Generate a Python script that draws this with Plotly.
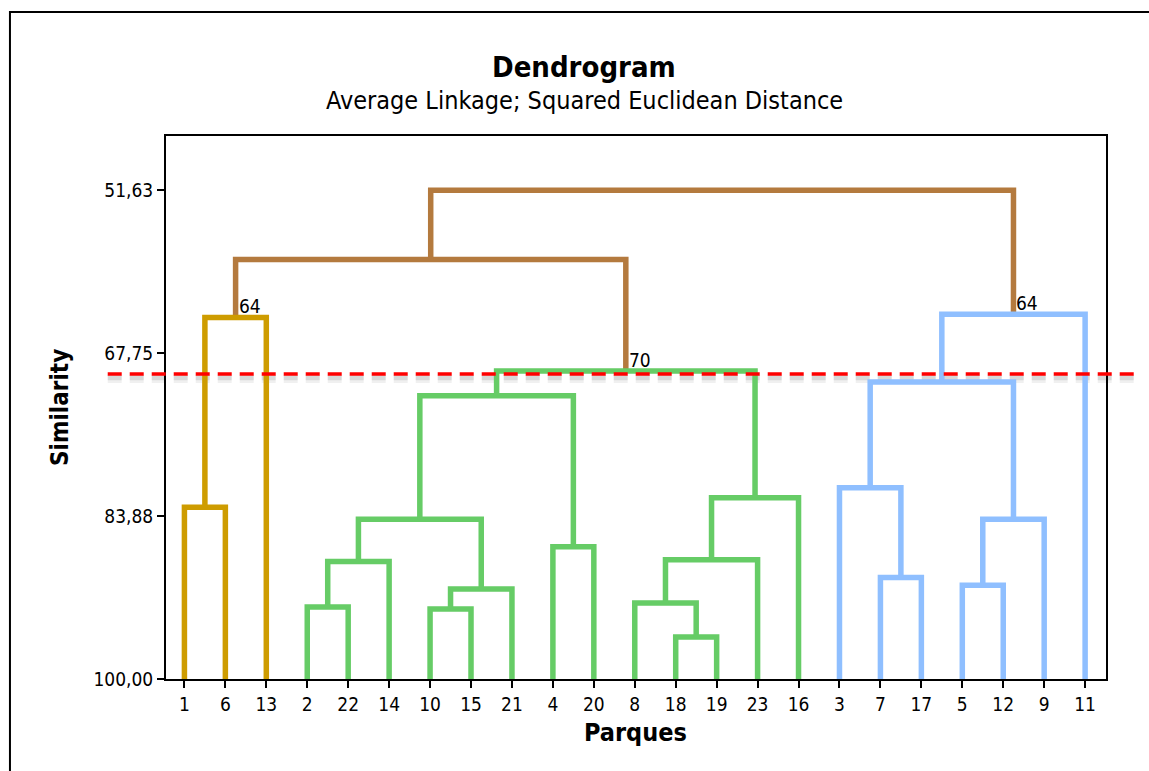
import plotly.graph_objects as go

# ---------------- data ----------------
leaf_labels = ["1", "6", "13", "2", "22", "14", "10", "15", "21", "4", "20",
               "8", "18", "19", "23", "16", "3", "7", "17", "5", "12", "9", "11"]

merge_names = ["A", "B", "C", "D", "E", "F", "G", "H", "I", "J", "K",
               "L", "M", "N", "O", "P", "Q", "R", "S", "T", "U", "V"]
merge_left = ["1", "A", "2", "C", "10", "E", "D", "4", "G", "18", "8",
              "K", "L", "I", "7", "3", "5", "Q", "P", "S", "B", "U"]
merge_right = ["6", "13", "22", "14", "15", "21", "F", "20", "H", "19", "J",
               "23", "16", "M", "17", "O", "12", "9", "R", "11", "N", "T"]
merge_similarity = [83.00, 64.22, 92.88, 88.37, 93.08, 91.10, 84.18, 86.92, 71.96, 95.85, 92.49,
                    88.21, 82.05, 69.52, 89.95, 81.06, 90.71, 84.18, 70.61, 63.89, 58.48, 51.63]
merge_cluster = ["gold", "gold", "green", "green", "green", "green", "green", "green", "green",
                 "green", "green", "green", "green", "green", "blue", "blue", "blue", "blue",
                 "blue", "blue", "brown", "brown"]

cluster_labels_node = ["B", "N", "T"]
cluster_labels_text = ["64", "70", "64"]

cutoff_similarity = 69.82

y_tick_values = [51.63, 67.75, 83.88, 100.00]
y_tick_text = ["51,63", "67,75", "83,88", "100,00"]

title_text = "Dendrogram"
subtitle_text = "Average Linkage; Squared Euclidean Distance"
x_title = "Parques"
y_title = "Similarity"

# ---------------- styles ----------------
colors = {
    "gold": "rgb(206,156,0)",
    "green": "rgb(102,204,102)",
    "blue": "rgb(143,191,255)",
    "brown": "rgb(180,122,62)",
}
FONT = "DejaVu Sans Condensed, DejaVu Sans, sans-serif"

# ---------------- build segments ----------------
pos = {lab: i + 1 for i, lab in enumerate(leaf_labels)}
height = {lab: 100.0 for lab in leaf_labels}
segs = {k: ([], []) for k in colors}
for name, a, b, s, c in zip(merge_names, merge_left, merge_right, merge_similarity, merge_cluster):
    xa, xb = pos[a], pos[b]
    ha, hb = height[a], height[b]
    xs, ys = segs[c]
    xs += [xa, xa, xb, xb, None]
    ys += [ha, s, s, hb, None]
    pos[name] = (xa + xb) / 2
    height[name] = s

fig = go.Figure()
for c in ["brown", "gold", "green", "blue"]:
    xs, ys = segs[c]
    fig.add_trace(go.Scatter(x=xs, y=ys, mode="lines",
                             line=dict(color=colors[c], width=5.5),
                             hoverinfo="skip", showlegend=False))

y_range = [100.0, 46.26]
x_range = [0.55, 23.51]

def ypaper(v):
    return (v - y_range[0]) / (y_range[1] - y_range[0])

# cutoff line with soft shadow
cy = ypaper(cutoff_similarity)
for off, alpha, w in [(0.009, 0.06, 8), (0.007, 0.10, 5)]:
    fig.add_shape(type="line", xref="paper", yref="paper", x0=-0.062, x1=1.036,
                  y0=cy - off, y1=cy - off,
                  line=dict(color="rgba(0,0,0,%.2f)" % alpha, width=w, dash="14px,8px"),
                  layer="below")
fig.add_shape(type="line", xref="paper", yref="paper", x0=-0.062, x1=1.036,
              y0=cy, y1=cy,
              line=dict(color="rgb(255,0,0)", width=3.5, dash="14px,8px"), layer="above")

# outer frame (left and top edges)
fig.add_shape(type="path", xref="paper", yref="paper",
              path="M -0.166,-0.3 L -0.166,1.2284 L 1.2,1.2284",
              line=dict(color="black", width=2))

annotations = []
for node, txt in zip(cluster_labels_node, cluster_labels_text):
    annotations.append(dict(x=pos[node], y=height[node], xref="x", yref="y", text=txt,
                            showarrow=False, xanchor="left", yanchor="bottom",
                            xshift=1, yshift=-2, font=dict(family=FONT, size=19, color="black")))

annotations += [
    dict(x=0.445, y=1.127, xref="paper", yref="paper", text="<b>" + title_text + "</b>",
         showarrow=False, xanchor="center", yanchor="middle",
         font=dict(family=FONT, size=29, color="black")),
    dict(x=0.445, y=1.066, xref="paper", yref="paper", text=subtitle_text,
         showarrow=False, xanchor="center", yanchor="middle",
         font=dict(family=FONT, size=25, color="black")),
    dict(x=(635 - 166) / 940, y=(679 - 732) / 543, xref="paper", yref="paper",
         text="<b>" + x_title + "</b>", showarrow=False, xanchor="center", yanchor="middle",
         font=dict(family=FONT, size=25, color="black")),
    dict(x=(60 - 166) / 940, y=(679 - 408) / 543, xref="paper", yref="paper",
         text="<b>" + y_title + "</b>", showarrow=False, xanchor="center", yanchor="middle",
         textangle=-90, font=dict(family=FONT, size=24, color="black")),
]

fig.update_layout(
    width=1149, height=771,
    margin=dict(l=166, r=43, t=136, b=92),
    paper_bgcolor="white", plot_bgcolor="white",
    annotations=annotations,
    font=dict(family=FONT, size=19, color="black"),
    xaxis=dict(range=x_range, tickmode="array", tickvals=list(range(1, len(leaf_labels) + 1)),
               ticktext=leaf_labels, ticks="outside", ticklen=7, tickwidth=2, tickcolor="black",
               showline=True, linecolor="black", linewidth=2, mirror=True,
               showgrid=False, zeroline=False, tickfont=dict(family=FONT, size=19)),
    yaxis=dict(range=y_range, tickmode="array", tickvals=y_tick_values, ticktext=y_tick_text,
               ticks="outside", ticklen=7, tickwidth=2, tickcolor="black",
               showline=True, linecolor="black", linewidth=2, mirror=True,
               showgrid=False, zeroline=False, tickfont=dict(family=FONT, size=19)),
)

fig.write_html("out.html", config={"displayModeBar": False},
               post_script="document.body.style.margin='0';")
